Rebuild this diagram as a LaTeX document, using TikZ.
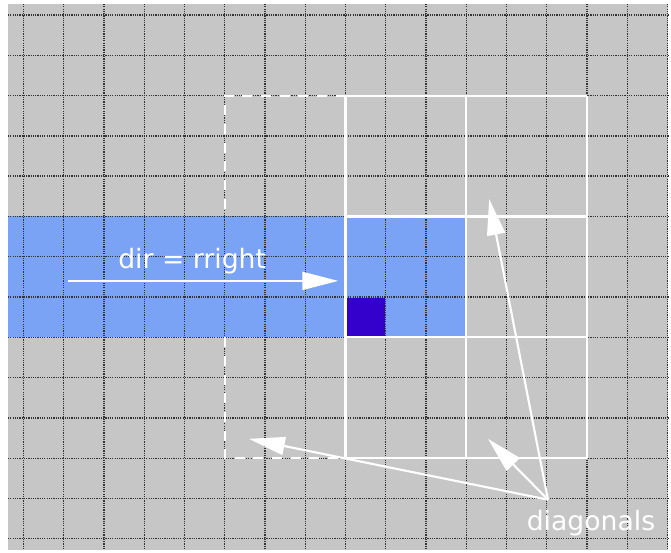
\documentclass[tikz,border=0pt]{standalone}
\usepackage{fontspec}
\newfontfamily\lblfont{DejaVu Sans}
\usetikzlibrary{arrows.meta}
\definecolor{fongray}{RGB}{198,198,198}
\definecolor{lblue}{RGB}{122,163,245}
\definecolor{dblue}{RGB}{51,0,204}

\begin{document}
\begin{tikzpicture}[x=30.19pt,y=-30.22pt,
  setka/.style={black!80, line width=1pt, dash pattern=on 0.9pt off 0.8pt},
  kletka/.style={white, line width=1.6pt},
  strelka/.style={white, line width=1.6pt, -{Triangle[length=27pt,width=13.5pt]}},
  metka/.style={text=white, font=\lblfont\fontsize{20}{22}\selectfont}]
  \useasboundingbox (-0.584,-0.372) rectangle (16.087,13.35);
  %фон
  \fill[fongray] (-0.385,-0.273) rectangle (16.01,13.28);
  %полоса
  \fill[lblue] (-0.385,5) rectangle (11,8);
  %сетка
  \foreach \i in {0,...,16}
    \draw[setka] (\i,-0.273) -- (\i,13.28);
  \foreach \j in {0,...,13}
    \draw[setka] (-0.385,\j) -- (16.01,\j);
  %пунктир
  \draw[kletka, dash pattern=on 7.5pt off 6.5pt] (8,2) -- (5,2) -- (5,5);
  \draw[kletka, dash pattern=on 7.5pt off 6.5pt] (5,8) -- (5,11) -- (8,11);
  %клетка
  \fill[dblue] (8.03,7.03) rectangle (8.97,7.98);
  \foreach \i in {8,11,14}
    \draw[kletka] (\i,2) -- (\i,11);
  \foreach \j in {2,5,8,11}
    \draw[kletka] (8,\j) -- (14,\j);
  %стрелки
  \coordinate (dirstart) at (1.1,6.6);
  \coordinate (dirend) at (7.82,6.6);
  \draw[strelka] (dirstart) -- (dirend);
  \node[metka] (dirtext) at (4.19,6.12) {dir = rright};
  \coordinate (foot) at (13.03,12.03);
  \coordinate (diagleft) at (5.6,10.52);
  \coordinate (diagup) at (11.57,4.57);
  \coordinate (diagmid) at (11.54,10.52);
  \draw[strelka] (foot) -- (diagleft);
  \draw[strelka] (foot) -- (diagup);
  \draw[strelka] (foot) -- (diagmid);
  \node[metka] (diagtext) at (14.1,12.62) {diagonals};
\end{tikzpicture}
\end{document}
